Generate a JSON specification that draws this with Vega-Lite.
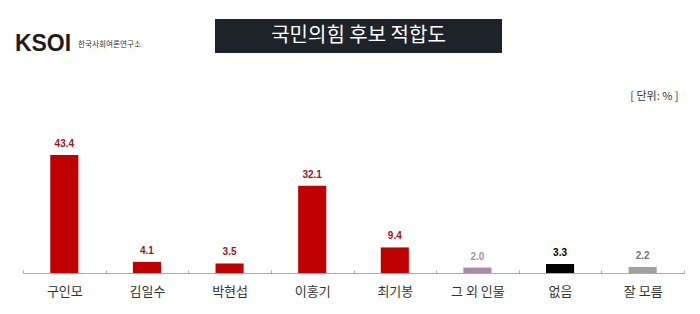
{
  "$schema": "https://vega.github.io/schema/vega-lite/v6.json",
  "padding": {"left": 14, "top": 19, "right": 5, "bottom": 0},
  "background": "white",
  "spacing": 22,
  "config": {"view": {"stroke": null}, "font": "Noto Sans CJK KR"},
  "datasets": {
    "poll": [
      {"candidate": "구인모", "value": 43.4},
      {"candidate": "김일수", "value": 4.1},
      {"candidate": "박현섭", "value": 3.5},
      {"candidate": "이홍기", "value": 32.1},
      {"candidate": "최기봉", "value": 9.4},
      {"candidate": "그 외 인물", "value": 2.0},
      {"candidate": "없음", "value": 3.3},
      {"candidate": "잘 모름", "value": 2.2}
    ],
    "logo": [{"brand": "KSOI", "org": "한국사회여론연구소"}],
    "head": [{"title": "국민의힘 후보 적합도"}]
  },
  "vconcat": [
    {
      "spacing": 71,
      "hconcat": [
        {
          "spacing": 3,
          "hconcat": [
            {
              "width": 40, "height": 50,
              "data": {"name": "logo"},
              "mark": {"type": "text", "font": "Liberation Sans", "fontSize": 23, "fontWeight": "bold", "color": "#1c1c1c"},
              "encoding": {"text": {"field": "brand"}}
            },
            {
              "width": 69, "height": 50,
              "data": {"name": "logo"},
              "mark": {"type": "text", "fontSize": 7.6, "color": "#333333", "dy": 1},
              "encoding": {"text": {"field": "org"}}
            }
          ]
        },
        {
          "width": 287, "height": 34,
          "view": {"fill": "#1e2329", "stroke": null},
          "data": {"name": "head"},
          "mark": {"type": "text", "fontSize": 20, "color": "white", "font": "Noto Sans CJK KR"},
          "encoding": {"text": {"field": "title"}}
        }
      ]
    },
    {
      "width": 661,
      "height": 136,
      "title": {"text": "[ 단위: % ]", "anchor": "end", "fontSize": 11, "fontWeight": "normal", "color": "#333333", "offset": 35, "dx": -6, "font": "Noto Sans CJK KR"},
      "data": {"name": "poll"},
      "encoding": {
        "x": {
          "field": "candidate", "type": "nominal", "sort": null,
          "scale": {"paddingInner": 0, "paddingOuter": 0},
          "axis": {"title": null, "labelAngle": 0, "labelFontSize": 13, "labelColor": "#333333", "labelFont": "Noto Sans CJK KR", "domainColor": "#aaaaaa", "tickColor": "#aaaaaa", "tickBand": "extent", "tickSize": -3, "labelPadding": 15}
        },
        "y": {
          "field": "value", "type": "quantitative",
          "scale": {"domain": [0, 50]},
          "axis": {"title": null, "labels": false, "ticks": false, "domain": false, "grid": false, "minExtent": 8, "maxExtent": 8}
        }
      },
      "layer": [
        {
          "mark": {"type": "bar", "width": {"band": 0.34}},
          "encoding": {
            "color": {
              "field": "candidate", "legend": null,
              "scale": {
                "domain": ["구인모", "김일수", "박현섭", "이홍기", "최기봉", "그 외 인물", "없음", "잘 모름"],
                "range": ["#c00000", "#c00000", "#c00000", "#c00000", "#c00000", "#a888ab", "#000000", "#a0a0a0"]
              }
            }
          }
        },
        {
          "mark": {"type": "text", "baseline": "bottom", "dy": -6, "fontSize": 10, "fontWeight": "bold", "font": "Liberation Sans"},
          "encoding": {
            "text": {"field": "value", "format": ".1f"},
            "color": {
              "field": "candidate", "legend": null,
              "scale": {
                "domain": ["구인모", "김일수", "박현섭", "이홍기", "최기봉", "그 외 인물", "없음", "잘 모름"],
                "range": ["#a3121c", "#a3121c", "#a3121c", "#a3121c", "#a3121c", "#a98bab", "#000000", "#777777"]
              }
            }
          }
        }
      ],
      "resolve": {"scale": {"color": "independent"}}
    }
  ]
}
